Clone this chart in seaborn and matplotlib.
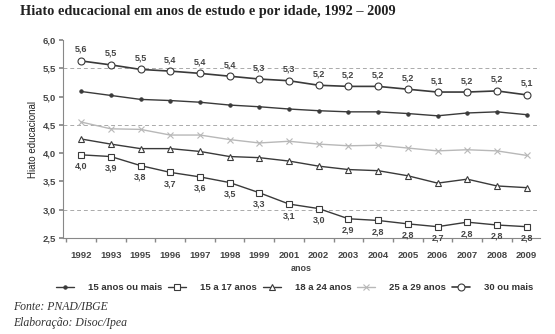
import matplotlib
matplotlib.use("Agg")
import matplotlib.pyplot as plt
import seaborn as sns
import pandas as pd
from matplotlib.ticker import FixedLocator

years = ["1992", "1993", "1995", "1996", "1997", "1998", "1999", "2001", "2002",
         "2003", "2004", "2005", "2006", "2007", "2008", "2009"]

s15mais = [5.09, 5.02, 4.95, 4.93, 4.90, 4.85, 4.82, 4.78, 4.75, 4.73, 4.73, 4.70, 4.66, 4.71, 4.73, 4.68]
s15a17 = [3.97, 3.94, 3.78, 3.66, 3.58, 3.48, 3.30, 3.10, 3.02, 2.84, 2.81, 2.75, 2.70, 2.78, 2.73, 2.70]
s18a24 = [4.25, 4.16, 4.08, 4.08, 4.03, 3.94, 3.92, 3.86, 3.77, 3.71, 3.69, 3.60, 3.47, 3.54, 3.42, 3.39]
s25a29 = [4.55, 4.43, 4.42, 4.32, 4.32, 4.24, 4.18, 4.21, 4.16, 4.13, 4.14, 4.09, 4.04, 4.06, 4.04, 3.96]
s30mais = [5.63, 5.56, 5.48, 5.45, 5.41, 5.36, 5.31, 5.28, 5.20, 5.18, 5.18, 5.13, 5.08, 5.08, 5.10, 5.03]

labels30 = ["5,6", "5,5", "5,5", "5,4", "5,4", "5,4", "5,3", "5,3", "5,2", "5,2", "5,2", "5,2", "5,1", "5,2", "5,2", "5,1"]
labels1517 = ["4,0", "3,9", "3,8", "3,7", "3,6", "3,5", "3,3", "3,1", "3,0", "2,9", "2,8", "2,8", "2,7", "2,8", "2,8", "2,8"]

series_names = ["15 anos ou mais", "15 a 17 anos", "18 a 24 anos", "25 a 29 anos", "30 ou mais"]
y_ticks = [2.5, 3.0, 3.5, 4.0, 4.5, 5.0, 5.5, 6.0]
dashed_levels = [3.0, 4.5, 5.5]

sns.set_theme(style="white")
plt.rcParams["font.family"] = ["Liberation Sans", "DejaVu Sans"]

fig = plt.figure(figsize=(5.55, 3.34), dpi=100)
ax = fig.add_axes([63 / 555, 1 - 238 / 334, 477 / 555, 198 / 334])

dark = "#3a3a3a"
light = "#b8b8b8"
styles = [
    dict(color=dark, marker="o", markersize=2.4, markerfacecolor=dark, markeredgecolor=dark, lw=1.0),
    dict(color=dark, marker="s", markersize=4.3, markerfacecolor="white", markeredgecolor=dark, markeredgewidth=0.8, lw=1.0),
    dict(color=dark, marker="^", markersize=5.0, markerfacecolor="white", markeredgecolor=dark, markeredgewidth=0.8, lw=1.0),
    dict(color=light, marker="x", markersize=4.2, markeredgecolor=light, markeredgewidth=0.8, lw=1.0),
    dict(color=dark, marker="o", markersize=5.0, markerfacecolor="white", markeredgecolor=dark, markeredgewidth=0.8, lw=1.2),
]
all_series = [s15mais, s15a17, s18a24, s25a29, s30mais]

for lev in dashed_levels:
    ax.axhline(lev, color="#aaaaaa", lw=0.7, ls=(0, (4, 3)), zorder=0)

for name, vals, st in zip(series_names, all_series, styles):
    df = pd.DataFrame({"ano": years, "valor": vals})
    sns.lineplot(data=df, x="ano", y="valor", ax=ax, label=name, sort=False, **st)

for i, (v, lab) in enumerate(zip(s30mais, labels30)):
    ax.annotate(lab, (i, v), xytext=(0, 5), textcoords="offset points", ha="center", va="bottom",
                fontsize=6.5, fontweight="bold", color="#444444")
for i, (v, lab) in enumerate(zip(s15a17, labels1517)):
    ax.annotate(lab, (i, v), xytext=(0, -5), textcoords="offset points", ha="center", va="top",
                fontsize=6.5, fontweight="bold", color="#444444")

ax.set_ylim(2.5, 6.0)
ax.set_xlim(-0.61, 15.45)
ax.set_yticks(y_ticks)
ax.set_yticklabels([f"{t:.1f}".replace(".", ",") for t in y_ticks], fontsize=6.8, fontweight="bold", color="#444444")
ax.set_xticks(range(len(years)))
ax.set_xticklabels(years, fontsize=6.8, fontweight="bold", color="#444444")
ax.xaxis.set_minor_locator(FixedLocator([i + 0.5 for i in range(-1, len(years))]))
ax.tick_params(axis="x", which="major", length=0, pad=9)
ax.tick_params(axis="x", which="minor", length=3, color="#888888", direction="out", bottom=True)
ax.tick_params(axis="y", length=3, color="#888888", direction="out", left=True, pad=2)

for s in ["top", "right"]:
    ax.spines[s].set_visible(False)
for s in ["left", "bottom"]:
    ax.spines[s].set_color("#888888")
    ax.spines[s].set_linewidth(0.8)

ax.set_xlabel("anos", fontsize=6.5, fontweight="bold", color="#444444", labelpad=3)
ax.set_ylabel("Hiato educacional", fontsize=7.0, color="#222222")
ax.yaxis.set_label_coords(-0.052, 0.5)

leg = ax.legend(loc="center", ncol=5, frameon=False, handlelength=1.9, handletextpad=1.48,
                columnspacing=0.64, prop={"weight": "bold", "size": 6.8})
leg.set_bbox_to_anchor((294.5 / 555, 1 - 288 / 334), transform=fig.transFigure)
for t in leg.get_texts():
    t.set_color("#333333")

fig.text(20 / 555, 1 - 12 / 334, "Hiato educacional em anos de estudo e por idade, 1992 – 2009",
         fontsize=10.3, fontweight="bold", family="Liberation Serif", va="center", ha="left", color="#222222")
fig.text(13 / 555, 1 - 307 / 334, "Fonte: PNAD/IBGE", fontsize=8.5, style="italic",
         family="Liberation Serif", va="center", ha="left", color="#333333")
fig.text(13 / 555, 1 - 323 / 334, "Elaboração: Disoc/Ipea", fontsize=8.5, style="italic",
         family="Liberation Serif", va="center", ha="left", color="#333333")

fig.savefig("out.png", dpi=100, facecolor="white")
